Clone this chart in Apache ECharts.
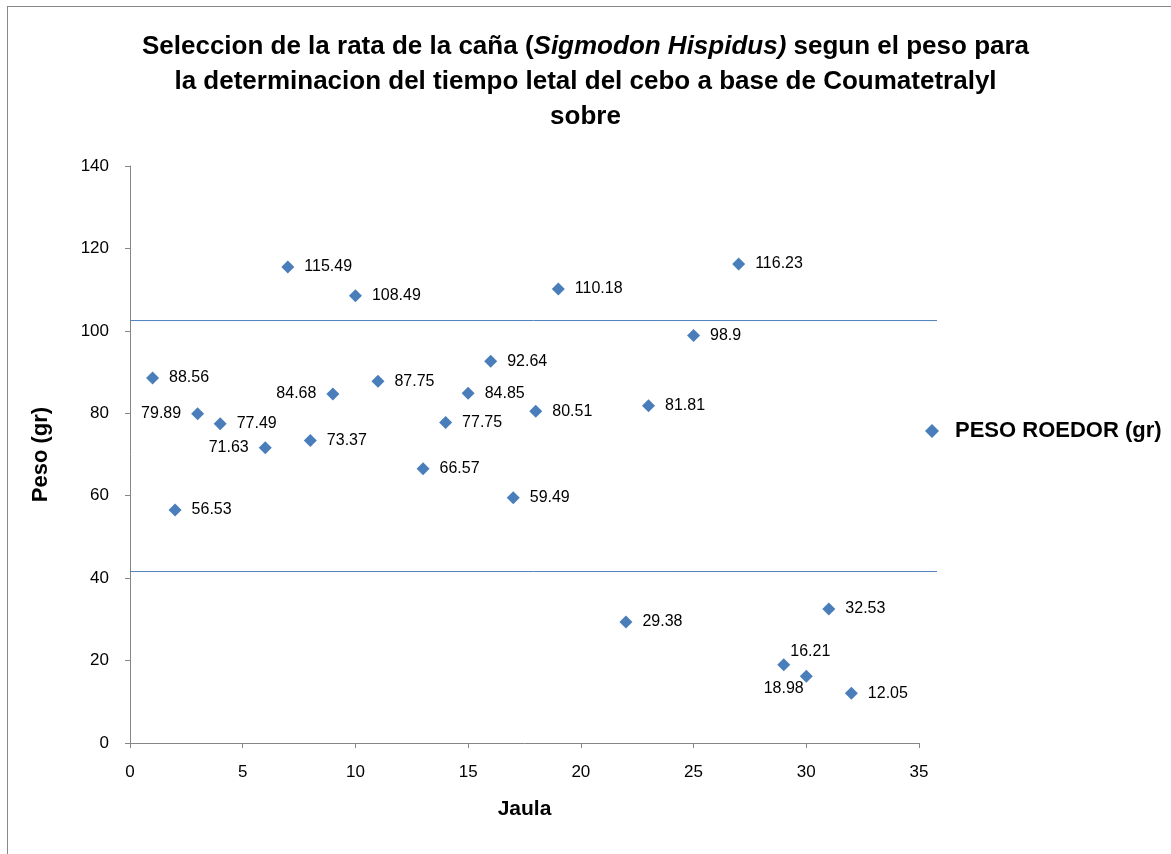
<!DOCTYPE html>
<html><head><meta charset="utf-8">
<script src="https://cdn.jsdelivr.net/npm/echarts@6/dist/echarts.min.js"></script>
<style>html,body{margin:0;padding:0;background:#fff}
#frame{position:absolute;left:7px;top:6px;width:1200px;height:900px;border-left:1px solid #888;border-top:1px solid #888;box-sizing:border-box}
#c{position:absolute;left:0;top:0;width:1171px;height:854px}</style>
</head><body><div id="frame"></div><div id="c"></div>
<script>
const jaula = [1,2,3,4,6,7,8,9,10,11,13,14,15,16,17,18,19,22,23,25,27,29,30,31,32];
const peso = [88.56,56.53,79.89,77.49,71.63,115.49,73.37,84.68,108.49,87.75,66.57,77.75,84.85,92.64,59.49,80.51,110.18,29.38,81.81,98.9,116.23,18.98,16.21,32.53,12.05];
const labelPos = {79.89:'left',71.63:'left',84.68:'left',18.98:'bottom',16.21:'top'};
const upperLimit = 102.5;
const lowerLimit = 41.6;
const limitX = [0, 35.7];
const xTicks = [0,5,10,15,20,25,30,35];
const yTicks = [0,20,40,60,80,100,120,140];

const F = 'Liberation Sans, Arial, sans-serif';
const pts = jaula.map((x,i)=>{
  const v = peso[i];
  const p = labelPos[v] || 'right';
  const o = {value:[x,v], label:{position:p}};
  if (p==='bottom') o.label.distance = 9;
  if (p==='top') o.label.offset = [4,0];
  return o;
});
const chart = echarts.init(document.getElementById('c'));
chart.setOption({
  animation:false,
  title:{
    left:'center', top:24,
    text:'{b|Seleccion de la rata de la caña (}{i|Sigmodon Hispidus)}{b| segun el peso para}\n{b|la determinacion del tiempo letal del cebo a base de Coumatetralyl}\n{b|sobre}',
    textStyle:{rich:{
      b:{fontFamily:F,fontWeight:'bold',fontSize:26,color:'#000',lineHeight:35},
      i:{fontFamily:F,fontWeight:'bold',fontStyle:'italic',fontSize:26,color:'#000',lineHeight:35}
    }}
  },
  legend:{
    left:920, top:415, itemWidth:14, itemHeight:14,
    data:[{name:'PESO ROEDOR (gr)', icon:'diamond'}],
    textStyle:{fontFamily:F,fontWeight:'bold',fontSize:22,color:'#000',padding:[0,0,0,11]}
  },
  grid:[{left:130,right:252,top:166,bottom:111},{left:130,right:234,top:166,bottom:111}],
  xAxis:[{
    type:'value', min:0, max:35, interval:5,
    name:'Jaula', nameLocation:'middle', nameGap:56,
    nameTextStyle:{fontFamily:F,fontWeight:'bold',fontSize:21,color:'#000'},
    axisLine:{lineStyle:{color:'#868686'}},
    axisTick:{show:true,length:5,lineStyle:{color:'#868686'}},
    axisLabel:{fontFamily:F,fontSize:17,color:'#000',margin:21},
    splitLine:{show:false}
  },{
    type:'value', gridIndex:1, min:0, max:'dataMax', show:false
  }],
  yAxis:[{
    type:'value', min:0, max:140, interval:20,
    name:'Peso (gr)', nameLocation:'middle', nameGap:78, nameRotate:90,
    nameTextStyle:{fontFamily:F,fontWeight:'bold',fontSize:22,color:'#000'},
    axisLine:{show:true,lineStyle:{color:'#868686'}},
    axisTick:{show:true,length:5,lineStyle:{color:'#868686'}},
    axisLabel:{fontFamily:F,fontSize:17,color:'#000',margin:21},
    splitLine:{show:false}
  },{
    type:'value', gridIndex:1, min:0, max:140, show:false
  }],
  series:[
    {name:'upper', type:'line', xAxisIndex:1, yAxisIndex:1, symbol:'none', silent:true,
     lineStyle:{color:'#4F81BD',width:1},
     data:limitX.map(x=>[x,upperLimit]), z:1},
    {name:'lower', type:'line', xAxisIndex:1, yAxisIndex:1, symbol:'none', silent:true,
     lineStyle:{color:'#4F81BD',width:1},
     data:limitX.map(x=>[x,lowerLimit]), z:1},
    {name:'PESO ROEDOR (gr)', type:'scatter', symbol:'diamond', symbolSize:13,
     itemStyle:{color:'#4A7EBB',opacity:1},
     label:{show:true, formatter:p=>p.value[1], fontFamily:F, fontSize:16, color:'#000', distance:10},
     data:pts, z:3}
  ]
});
</script></body></html>
